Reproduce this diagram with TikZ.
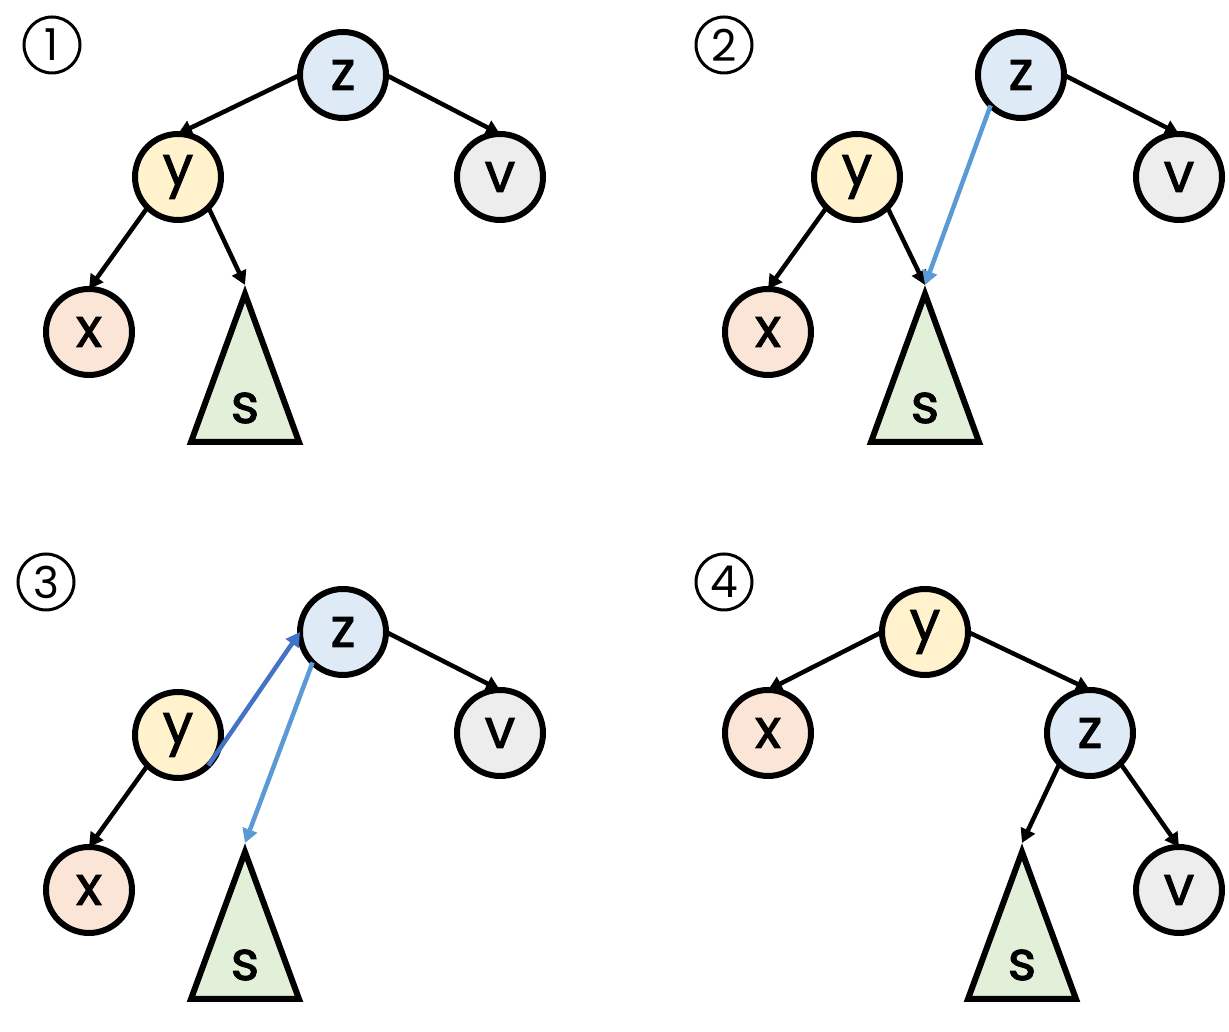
\documentclass[tikz,border=0pt]{standalone}
\usepackage{fontspec}
\setmainfont{Poppins}
\newfontfamily\nodefont{Poppins}[FakeBold=1.6]
\usepackage{tkz-graph}
\usetikzlibrary{arrows.meta}
\definecolor{zblue}{HTML}{DEEBF7}
\definecolor{yyellow}{HTML}{FFF2CC}
\definecolor{xorange}{HTML}{FBE5D6}
\definecolor{vgrey}{HTML}{EDEDED}
\definecolor{sgreen}{HTML}{E2F0D9}
\definecolor{lightarrow}{HTML}{5B9BD5}
\definecolor{darkarrow}{HTML}{4472C4}

\begin{document}
\begin{tikzpicture}
\useasboundingbox (0,0) rectangle (24.58,20.64);
\GraphInit[vstyle=Normal]
\tikzset{LabelStyle/.style={inner sep=0pt}}
\tikzset{NumStyle/.style={draw, circle, line width=0.06cm, minimum size=1.12cm, inner sep=0, font=\fontsize{25}{30}\selectfont}}
\tikzset{TreeStyle/.style={draw, fill=sgreen, line width=0.12cm}}
\tikzset{TreeLabel/.style={font=\nodefont\fontsize{31}{36}\selectfont}}
\node[NumStyle] (num1) at (1.04,19.74) {1};
\node[NumStyle] (num2) at (14.48,19.74) {2};
\node[NumStyle] (num3) at (0.92,9.00) {3};
\node[NumStyle] (num4) at (14.48,9.00) {4};
% subtrees s
\draw[TreeStyle] (4.90,14.76) -- (5.98,11.80) -- (3.82,11.80) -- cycle;
\draw[TreeStyle] (18.50,14.76) -- (19.58,11.80) -- (17.42,11.80) -- cycle;
\draw[TreeStyle] (4.90,3.60) -- (5.98,0.66) -- (3.82,0.66) -- cycle;
\draw[TreeStyle] (20.44,3.60) -- (21.52,0.66) -- (19.36,0.66) -- cycle;
\coordinate (s1top) at (4.90,14.94);
\coordinate (s2top) at (18.50,14.94);
\coordinate (s3top) at (4.90,3.78);
\coordinate (s4top) at (20.44,3.78);
\node[TreeLabel] (s1) at (4.90,12.48) {s};
\node[TreeLabel] (s2) at (18.50,12.48) {s};
\node[TreeLabel] (s3) at (4.90,1.34) {s};
\node[TreeLabel] (s4) at (20.44,1.34) {s};
\tikzset{VertexStyle/.style ={shape=circle, draw, line width=0.12cm, minimum size=1.72cm, inner sep=0, font=\nodefont\fontsize{31}{36}\selectfont}}
\tikzset{VertexStyle/.append style ={fill=zblue}}
\Vertex[x=6.86, y=19.14, L=z]{z1}
\Vertex[x=20.42, y=19.14, L=z]{z2}
\Vertex[x=6.86, y=8.00, L=z]{z3}
\Vertex[x=21.80, y=5.98, L=z]{z4}
\tikzset{VertexStyle/.style ={shape=circle, draw, line width=0.12cm, minimum size=1.72cm, inner sep=0, font=\nodefont\fontsize{31}{36}\selectfont, fill=yyellow}}
\Vertex[x=3.56, y=17.10, L=y]{y1}
\Vertex[x=17.14, y=17.10, L=y]{y2}
\Vertex[x=3.56, y=5.94, L=y]{y3}
\Vertex[x=18.50, y=8.00, L=y]{y4}
\tikzset{VertexStyle/.style ={shape=circle, draw, line width=0.12cm, minimum size=1.72cm, inner sep=0, font=\nodefont\fontsize{31}{36}\selectfont, fill=xorange}}
\Vertex[x=1.78, y=14.00, L=x]{x1}
\Vertex[x=15.36, y=14.00, L=x]{x2}
\Vertex[x=1.78, y=2.84, L=x]{x3}
\Vertex[x=15.36, y=5.98, L=x]{x4}
\tikzset{VertexStyle/.style ={shape=circle, draw, line width=0.12cm, minimum size=1.72cm, inner sep=0, font=\nodefont\fontsize{31}{36}\selectfont, fill=vgrey}}
\Vertex[x=10.00, y=17.10, L=v]{v1}
\Vertex[x=23.58, y=17.10, L=v]{v2}
\Vertex[x=10.00, y=5.98, L=v]{v3}
\Vertex[x=23.58, y=2.84, L=v]{v4}
\tikzset{EdgeStyle/.style ={draw, line width=0.09cm, -{Triangle[length=0.28cm, width=0.3cm]}}}
\Edge(z1.west)(y1.north)
\Edge(z1.east)(v1.north)
\Edge(y1.south west)(x1.north)
\Edge(y1.south east)(s1top)
\Edge(z2.east)(v2.north)
\Edge(y2.south west)(x2.north)
\Edge(y2.south east)(s2top)
\Edge(z3.east)(v3.north)
\Edge(y3.south west)(x3.north)
\Edge(y4.west)(x4.north)
\Edge(y4.east)(z4.north)
\Edge(z4.south west)(s4top)
\Edge(z4.south east)(v4.north)
\tikzset{EdgeStyle/.style ={draw, line width=0.09cm, color=lightarrow, -{Triangle[length=0.28cm, width=0.3cm]}}}
\Edge(z2.south west)(s2top)
\Edge(z3.south west)(s3top)
\tikzset{EdgeStyle/.style ={draw, line width=0.09cm, color=darkarrow, -{Triangle[length=0.28cm, width=0.3cm]}}}
\Edge(y3.south east)(z3.west)
\end{tikzpicture}
\end{document}
